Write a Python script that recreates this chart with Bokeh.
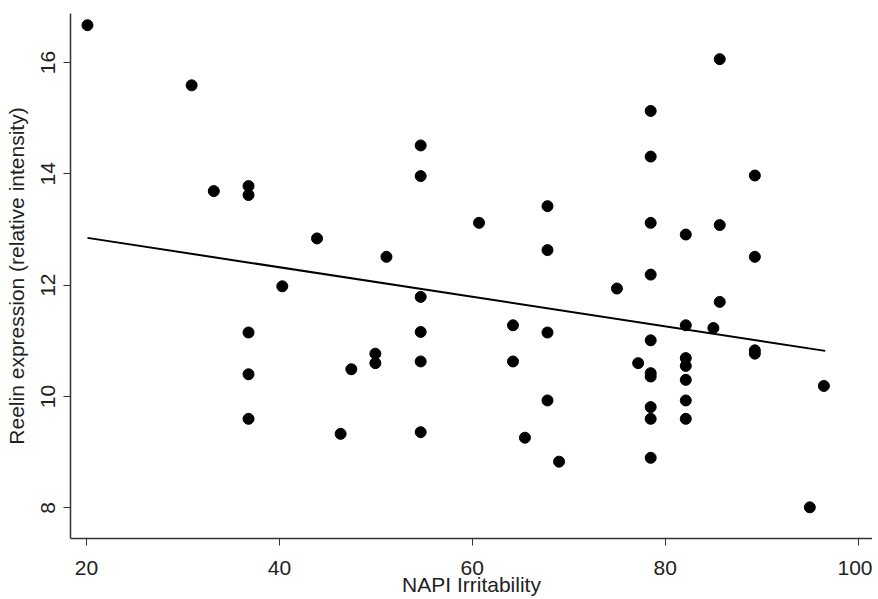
from bokeh.plotting import figure
from bokeh.models import Range1d, FixedTicker
from bokeh.embed import file_html
from bokeh.resources import INLINE

napi = [20.1, 30.9, 33.2, 36.8, 36.8, 40.3, 36.8, 36.8, 36.8,
        43.9, 51.1, 54.65, 54.65, 60.7, 67.8, 67.8, 54.65,
        85.66, 78.5, 78.5, 89.3, 78.5, 82.14, 85.66, 89.3, 78.5, 75.0, 85.66,
        46.35, 47.46, 49.95, 49.95, 54.65, 54.65, 54.65, 64.22, 64.22, 67.8, 67.8, 65.46, 69.0,
        82.14, 85.0, 78.5, 77.2, 78.5, 78.5, 82.14, 82.14, 82.14, 82.14, 82.14, 78.5, 78.5, 78.5,
        89.3, 89.3, 96.46, 95.0]
reelin = [16.67, 15.59, 13.69, 13.78, 13.62, 11.98, 11.15, 10.40, 9.60,
          12.84, 12.51, 14.51, 13.96, 13.12, 13.42, 12.63, 11.79,
          16.06, 15.13, 14.31, 13.97, 13.12, 12.91, 13.08, 12.51, 12.19, 11.94, 11.70,
          9.33, 10.49, 10.77, 10.60, 11.16, 10.63, 9.36, 11.28, 10.63, 11.15, 9.93, 9.26, 8.83,
          11.28, 11.23, 11.01, 10.60, 10.42, 10.36, 10.69, 10.55, 10.30, 9.93, 9.60, 9.81, 9.60, 8.90,
          10.83, 10.77, 10.19, 8.01]

fit_x = [20.1, 96.6]
fit_y = [12.85, 10.82]

x_ticks = [20, 40, 60, 80, 100]
y_ticks = [8, 10, 12, 14, 16]

p = figure(width=872, height=598, output_backend="svg", toolbar_location=None,
           x_range=Range1d(18.34, 101.5), y_range=Range1d(7.45, 16.88),
           min_border_left=70, min_border_right=0, min_border_top=13, min_border_bottom=60)
p.outline_line_color = None
p.grid.visible = False
p.background_fill_color = "white"
p.border_fill_color = "white"

p.line(fit_x, fit_y, line_color="black", line_width=2)
p.scatter(napi, reelin, size=11, fill_color="black", line_color="black")

for ax, ticks in ((p.xaxis[0], x_ticks), (p.yaxis[0], y_ticks)):
    ax.ticker = FixedTicker(ticks=ticks)
    ax.minor_tick_line_color = None
    ax.major_tick_out = 7
    ax.major_tick_in = 0
    ax.axis_line_color = "#333333"
    ax.major_tick_line_color = "#333333"
    ax.axis_line_width = 1.5
    ax.major_label_text_font = "Liberation Sans"
    ax.major_label_text_font_size = "21px"
    ax.major_label_text_color = "#222222"
    ax.axis_label_text_font = "Liberation Sans"
    ax.axis_label_text_font_size = "21px"
    ax.axis_label_text_font_style = "normal"
    ax.axis_label_text_color = "#222222"

p.xaxis.axis_label = "NAPI Irritability"
p.yaxis.axis_label = "Reelin expression (relative intensity)"
p.yaxis.major_label_orientation = "vertical"
p.xaxis.major_label_standoff = 15
p.yaxis.major_label_standoff = 8
p.xaxis.axis_label_standoff = -5
p.yaxis.axis_label_standoff = 11

open("out.html", "w").write(file_html(p, INLINE))
